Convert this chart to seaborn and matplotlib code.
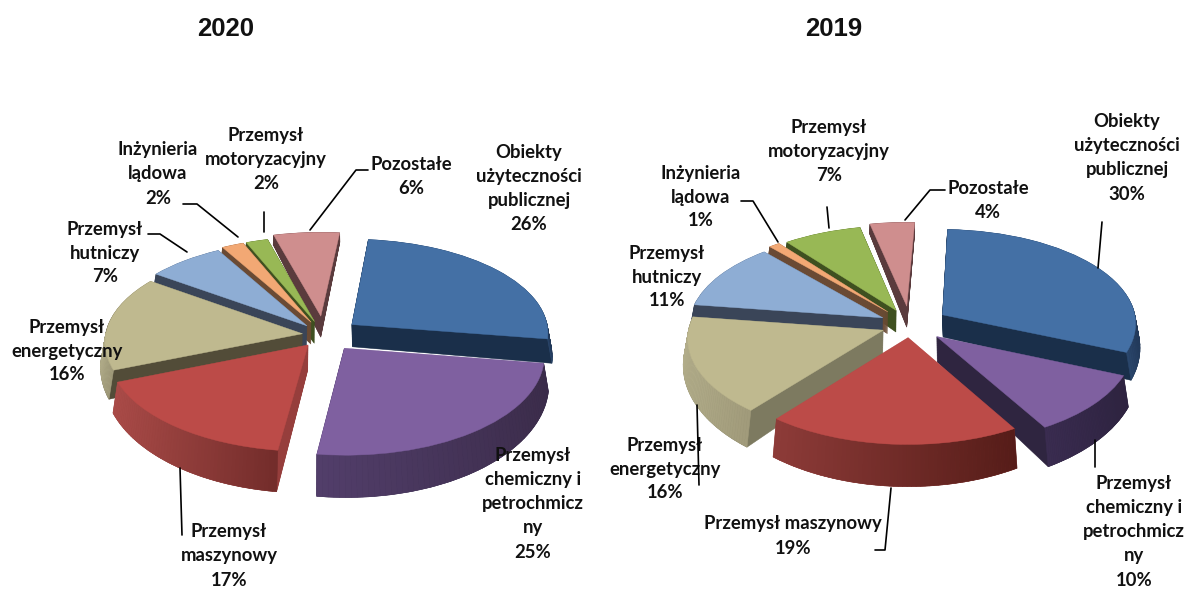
import numpy as np
import matplotlib
matplotlib.use("Agg")
import matplotlib.pyplot as plt
import seaborn as sns
from matplotlib.collections import PolyCollection
from matplotlib.colors import to_rgb
from matplotlib.lines import Line2D
from matplotlib.transforms import Affine2D, Transform

categories = ["Obiekty\nużyteczności\npublicznej",
              "Przemysł\nchemiczny i\npetrochmicz\nny",
              "Przemysł\nmaszynowy",
              "Przemysł\nenergetyczny",
              "Przemysł\nhutniczy",
              "Inżynieria\nlądowa",
              "Przemysł\nmotoryzacyjny",
              "Pozostałe"]
values_2020 = [26, 25, 17, 16, 7, 2, 2, 6]
values_2019 = [30, 10, 19, 16, 11, 1, 7, 4]
titles = ["2020", "2019"]

top_colors = ["#4470A5", "#7F60A0", "#BC4B48", "#BFB98F", "#8EADD4", "#F2A874", "#98B855", "#CF8E8E"]
sns.set_theme(style="white")
W, H = 1187, 590
K = 0.09
P = 0.08
DEPTH = 0.22
GROW = 0.10


class Persp(Transform):
    input_dims = 2
    output_dims = 2
    is_separable = False
    has_inverse = False
    is_affine = False

    def transform_non_affine(self, values):
        v = np.asarray(values, dtype=float)
        return np.column_stack([v[:, 0] * (1 - P * v[:, 1]), v[:, 1]])


def fwd(y):
    return y - K * y * y


def inv(f):
    return (1 - np.sqrt(np.maximum(1 - 4 * K * np.asarray(f), 0))) / (2 * K)


def fx(px):
    return px / W


def fy(py):
    return 1 - py / H


def draw_pie(fig, values, cx, cy, rx, ry, start, explode, wall, band):
    xr, yr = (-1.5, 1.5), (-2.0, 1.6)
    left = cx - 1.5 * rx
    bottom = cy - fwd(yr[0]) * ry
    top = cy - fwd(yr[1]) * ry
    ax = fig.add_axes([fx(left), fy(bottom), 3 * rx / W, (bottom - top) / H])
    ax.set_yscale("function", functions=(fwd, inv))
    persp = Persp() + ax.transData
    n = 36
    ts = np.linspace(1, 1 / n, n)
    for i, t in enumerate(ts):
        wedges, _ = ax.pie(values, explode=explode, startangle=start, counterclock=False,
                           colors=wall, center=(0, -t * DEPTH), radius=1,
                           wedgeprops=dict(linewidth=0.4, zorder=1 + i * 0.001))
        for w, c in zip(wedges, wall):
            w.set_edgecolor(c)
            w.set_transform(Affine2D().scale(1, 1 + GROW * t) + persp)
    tops, _ = ax.pie(values, explode=explode, startangle=start, counterclock=False,
                     colors=top_colors, radius=1, wedgeprops=dict(linewidth=0.3, zorder=4))
    for w, c in zip(tops, top_colors):
        w.set_edgecolor(c)
        w.set_transform(persp)
    order = np.argsort([-w.center[1] for w in tops])
    for rank, j in enumerate(order):
        w = tops[j]
        th = np.radians(np.linspace(w.theta1, w.theta2, 60))
        th = th[np.sin(th) < 0.02]
        if th.size < 2:
            continue
        th = np.sort(th)
        x = w.center[0] + np.cos(th)
        y = w.center[1] + np.sin(th)
        yb = (1 + GROW) * (y - DEPTH)
        xn = (x - x.min()) / max(np.ptp(x), 1e-6)
        c0, c1 = np.array(to_rgb(band[j][0])), np.array(to_rgb(band[j][1]))
        polys, cols = [], []
        for a in range(th.size - 1):
            polys.append([(x[a], y[a]), (x[a + 1], y[a + 1]), (x[a + 1], yb[a + 1]), (x[a], yb[a])])
            cols.append(c0 + (c1 - c0) * xn[a])
        pc = PolyCollection(polys, facecolors=cols, edgecolors=cols, linewidths=0.4,
                            transform=persp, zorder=2 + rank * 0.01)
        ax.add_collection(pc)
    ax.set_xlim(*xr)
    ax.set_ylim(*yr)
    ax.set_aspect("auto")
    ax.axis("off")
    ax.patch.set_alpha(0)
    return ax


fig = plt.figure(figsize=(W / 100, H / 100), dpi=100, facecolor="white")

wall_2020 = ["#1A2F4A", "#33284A", "#963E3C", "#524C38", "#3A4558", "#6A4A34", "#3F5020", "#5A3B3D"]
wall_2019 = ["#1A2F4A", "#2F2540", "#963E3C", "#7D7A60", "#3A4558", "#6A4A34", "#3F5020", "#5A3B3D"]
band_2020 = [("#2A466B", "#22395A"), ("#523E6A", "#3B2C4A"), ("#AA4B48", "#722C2A"), ("#B0AB88", "#A09A7A"),
             ("#3A4558", "#3A4558"), ("#6A4A34", "#6A4A34"), ("#3F5020", "#3F5020"), ("#5A3B3D", "#5A3B3D")]
band_2019 = [("#2A466B", "#22395A"), ("#3A2C50", "#2E2340"), ("#8D3B38", "#551C18"), ("#B2AD8A", "#A09A7A"),
             ("#3A4558", "#3A4558"), ("#6A4A34", "#6A4A34"), ("#3F5020", "#3F5020"), ("#5A3B3D", "#5A3B3D")]

explode_2020 = [0.18, 0.17, 0.13, 0.11, 0.13, 0.15, 0.15, 0.20]
explode_2019 = [0.20, 0.18, 0.13, 0.147, 0.16, 0.18, 0.17, 0.20]

draw_pie(fig, values_2020, 324, 335, 197, 96, 84, explode_2020, wall_2020, band_2020)
draw_pie(fig, values_2019, 910, 325, 194, 96, 87.5, explode_2019, wall_2019, band_2019)

label_font = dict(family=["Lato", "DejaVu Sans"], fontweight="bold", fontsize=13.3, color="#111111",
                  ha="center", va="center", linespacing=1.5)
title_font = dict(family=["Liberation Sans"], fontweight="bold", fontsize=18.5,
                  color="#111111", ha="center", va="center")

fig.text(fx(226), fy(29), titles[0], **title_font)
fig.text(fx(834), fy(29), titles[1], **title_font)

pos_2020 = [(529, 189), (533, 504), (229, 556), (67, 351), (105, 253), (158, 174), (266, 160), (411, 177)]
pos_2019 = [(1127, 158), (1134, 532), (793, 536), (665, 469), (667, 277), (701, 197), (829, 152), (988, 200)]
for vals, pos in ((values_2020, pos_2020), (values_2019, pos_2019)):
    for name, v, (px, py) in zip(categories, vals, pos):
        nm = name
        if name == "Przemysł\nmaszynowy" and vals is values_2019:
            nm = "Przemysł maszynowy"
        fig.text(fx(px), fy(py), f"{nm}\n{v}%", **label_font)

leaders = [
    [(368, 170), (356, 170), (310, 230)],
    [(264, 212), (264, 232)],
    [(183, 204), (197, 204), (238, 237)],
    [(148, 234), (160, 234), (187, 252)],
    [(180, 468), (182, 535)],
    [(945, 190), (930, 190), (905, 220)],
    [(827, 207), (829, 228)],
    [(741, 201), (753, 201), (778, 242)],
    [(697, 405), (699, 485)],
    [(891, 488), (885, 550), (875, 550)],
    [(1095, 440), (1095, 467)],
    [(1102, 222), (1098, 268)],
]
for pts in leaders:
    xs = [fx(p[0]) for p in pts]
    ys = [fy(p[1]) for p in pts]
    fig.add_artist(Line2D(xs, ys, color="black", lw=1.2, zorder=10))

fig.savefig("out.png", dpi=100, facecolor="white")
